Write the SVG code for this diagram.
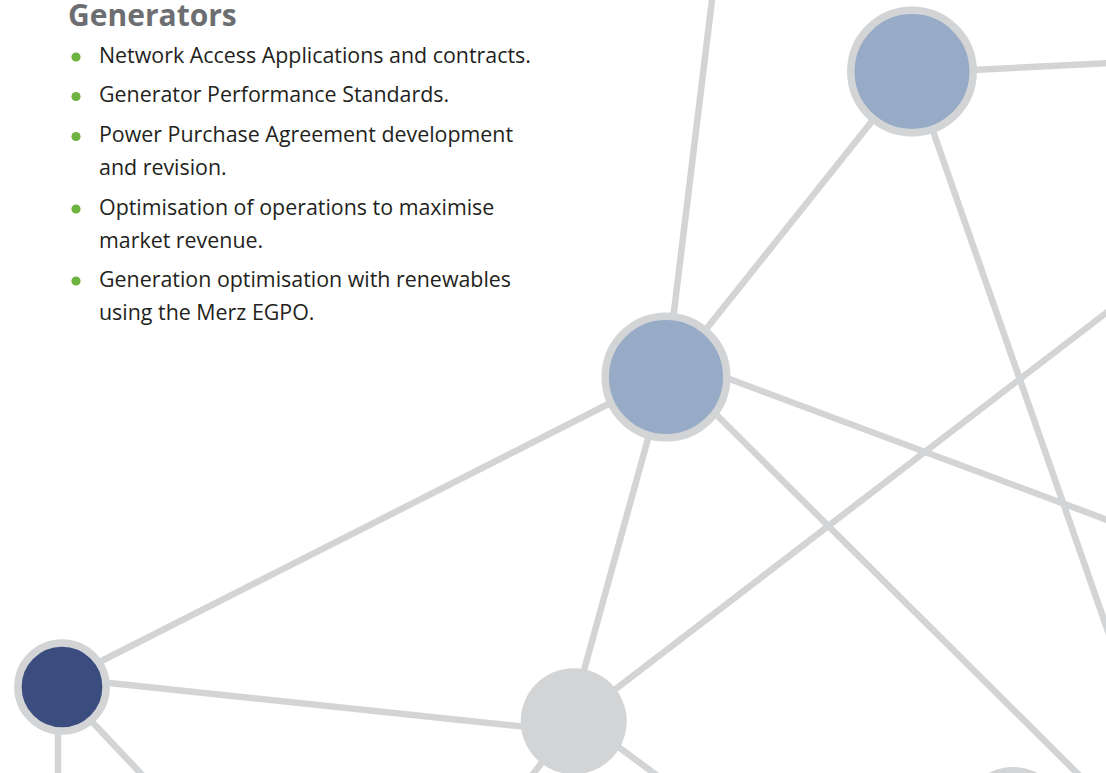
<svg xmlns="http://www.w3.org/2000/svg" width="1106" height="773" viewBox="0 0 1106 773">
<style>
.edge{stroke:#d3d4d6;stroke-width:6.5;fill:none;stroke-linecap:butt}
.ring{stroke:#d3d4d6;stroke-width:7.5}
.title{font-family:"Open Sans","Liberation Sans",sans-serif;font-weight:700;font-size:30px;fill:#6d6e71}
.item{font-family:"Open Sans","Liberation Sans",sans-serif;font-size:21.4px;fill:#231f20}
.dot{fill:#6cb33f}
</style>
<rect width="1106" height="773" fill="#ffffff"/>
<g id="connectors">
<line class="edge" x1="712.6" y1="-5" x2="666" y2="377"/>
<line class="edge" x1="912" y1="71" x2="668" y2="377"/>
<line class="edge" x1="912" y1="73" x2="1112" y2="63"/>
<line class="edge" x1="912" y1="71" x2="1160" y2="780"/>
<line class="edge" x1="1112" y1="308.4" x2="574" y2="721"/>
<line class="edge" x1="700" y1="368" x2="1112" y2="521.7"/>
<line class="edge" x1="690" y1="388.5" x2="1085" y2="781"/>
<line class="edge" x1="62" y1="681" x2="640" y2="388"/>
<line class="edge" x1="665" y1="377" x2="570" y2="721"/>
<line class="edge" x1="62" y1="678" x2="574" y2="732"/>
<line class="edge" x1="58" y1="687" x2="58" y2="780"/>
<line class="edge" x1="62" y1="690" x2="147" y2="780"/>
<line class="edge" x1="574" y1="721" x2="530" y2="778"/>
<line class="edge" x1="574" y1="714" x2="663" y2="780"/>
</g>
<g id="node-top-right"><circle class="ring" cx="912" cy="71.5" r="61.2" fill="#97abc7"/></g>
<g id="node-middle"><circle class="ring" cx="666" cy="377" r="60.8" fill="#97abc7"/></g>
<g id="node-bottom-left"><circle class="ring" cx="62" cy="687" r="44.1" stroke-width="7.7" fill="#3b4c7f"/></g>
<g id="node-bottom-gray"><circle cx="573.7" cy="721.3" r="53" fill="#d3d4d6"/></g>
<g id="node-bottom-right"><circle cx="1013" cy="820" r="53" fill="#d3d4d6"/></g>
<g id="text-panel">
<text class="title" x="68" y="25.5">Generators</text>
<circle class="dot" cx="76" cy="57" r="4.6"/>
<text class="item" x="99" y="62.5">Network Access Applications and contracts.</text>
<circle class="dot" cx="76" cy="96.5" r="4.6"/>
<text class="item" x="99" y="102">Generator Performance Standards.</text>
<circle class="dot" cx="76" cy="136.5" r="4.6"/>
<text class="item" x="99" y="142">Power Purchase Agreement development</text>
<text class="item" x="99" y="175">and revision.</text>
<circle class="dot" cx="76" cy="209" r="4.6"/>
<text class="item" x="99" y="214.5">Optimisation of operations to maximise</text>
<text class="item" x="99" y="247.5">market revenue.</text>
<circle class="dot" cx="76" cy="281" r="4.6"/>
<text class="item" x="99" y="286.5">Generation optimisation with renewables</text>
<text class="item" x="99" y="319.5">using the Merz EGPO.</text>
</g>
</svg>
